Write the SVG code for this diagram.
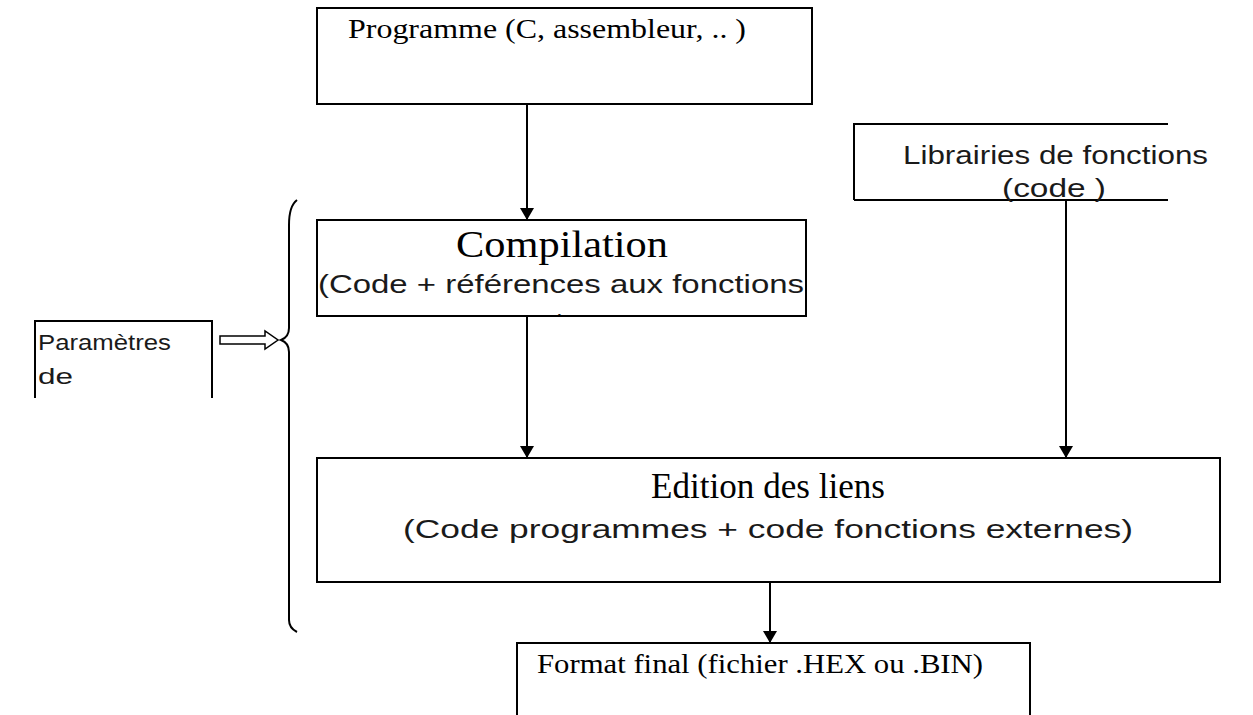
<svg xmlns="http://www.w3.org/2000/svg" width="1253" height="715" viewBox="0 0 1253 715">
<style>
.box{fill:#fff;stroke:#000;stroke-width:2}
.ln{fill:none;stroke:#000;stroke-width:2}
.serif{font-family:"Liberation Serif",serif;fill:#000}
.sans{font-family:"Liberation Sans",sans-serif;fill:#1a1a1a}
</style>
<defs>
<marker id="ah" markerWidth="12" markerHeight="14" refX="12" refY="7" orient="auto" markerUnits="userSpaceOnUse">
<path d="M0,0 L12,7 L0,14 Z" fill="#000"/>
</marker>
<clipPath id="cc"><rect x="317" y="220" width="489" height="95"/></clipPath>
</defs>
<g id="connectors">
<line class="ln" x1="527" y1="104" x2="527" y2="220" marker-end="url(#ah)"/>
<line class="ln" x1="527" y1="316" x2="527" y2="458" marker-end="url(#ah)"/>
<line class="ln" x1="1066" y1="200" x2="1066" y2="458" marker-end="url(#ah)"/>
<line class="ln" x1="770" y1="582" x2="770" y2="643" marker-end="url(#ah)"/>
<path d="M220,336 L265,336 L265,331 L278,340 L265,349 L265,344 L220,344 Z" fill="#fff" stroke="#000" stroke-width="1.5"/>
<path class="ln" d="M297,200 Q289,206 289,225 L289,328 Q289,337 281,340 Q289,343 289,352 L289,620 Q289,628 297,632"/>
</g>
<g id="programme">
<rect class="box" x="317" y="8" width="495" height="96"/>
<text class="serif" x="348" y="38" font-size="27" textLength="398" lengthAdjust="spacingAndGlyphs">Programme (C, assembleur, .. )</text>
</g>
<g id="librairies">
<path class="ln" d="M854,200 L854,124 L1168,124 M854,200 L1168,200"/>
<text class="sans" x="903" y="164" font-size="26" textLength="305" lengthAdjust="spacingAndGlyphs">Librairies de fonctions</text>
<text class="sans" x="1002" y="197" font-size="26" textLength="104" lengthAdjust="spacingAndGlyphs">(code )</text>
</g>
<g id="compilation">
<rect class="box" x="317" y="220" width="489" height="96"/>
<text class="serif" x="562" y="257" font-size="37" text-anchor="middle" textLength="212" lengthAdjust="spacingAndGlyphs">Compilation</text>
<text class="sans" x="318" y="293" font-size="25" textLength="486" lengthAdjust="spacingAndGlyphs">(Code + références aux fonctions</text>
<g clip-path="url(#cc)"><text class="sans" x="562" y="333" font-size="25" text-anchor="middle">)</text></g>
</g>
<g id="parametres">
<path class="ln" d="M35,398 L35,321 L212,321 L212,398"/>
<text class="sans" x="38" y="350" font-size="22" textLength="133" lengthAdjust="spacingAndGlyphs">Paramètres</text>
<text class="sans" x="38" y="384" font-size="22" textLength="35" lengthAdjust="spacingAndGlyphs">de</text>
</g>
<g id="edition">
<rect class="box" x="317" y="458" width="903" height="124"/>
<text class="serif" x="768" y="498" font-size="36" text-anchor="middle" textLength="234" lengthAdjust="spacingAndGlyphs">Edition des liens</text>
<text class="sans" x="768" y="538" font-size="26" text-anchor="middle" textLength="730" lengthAdjust="spacingAndGlyphs">(Code programmes + code fonctions externes)</text>
</g>
<g id="format">
<path class="ln" d="M517,715 L517,643 L1030,643 L1030,715"/>
<text class="serif" x="537" y="673" font-size="27" textLength="446" lengthAdjust="spacingAndGlyphs">Format final (fichier .HEX ou .BIN)</text>
</g>
</svg>
